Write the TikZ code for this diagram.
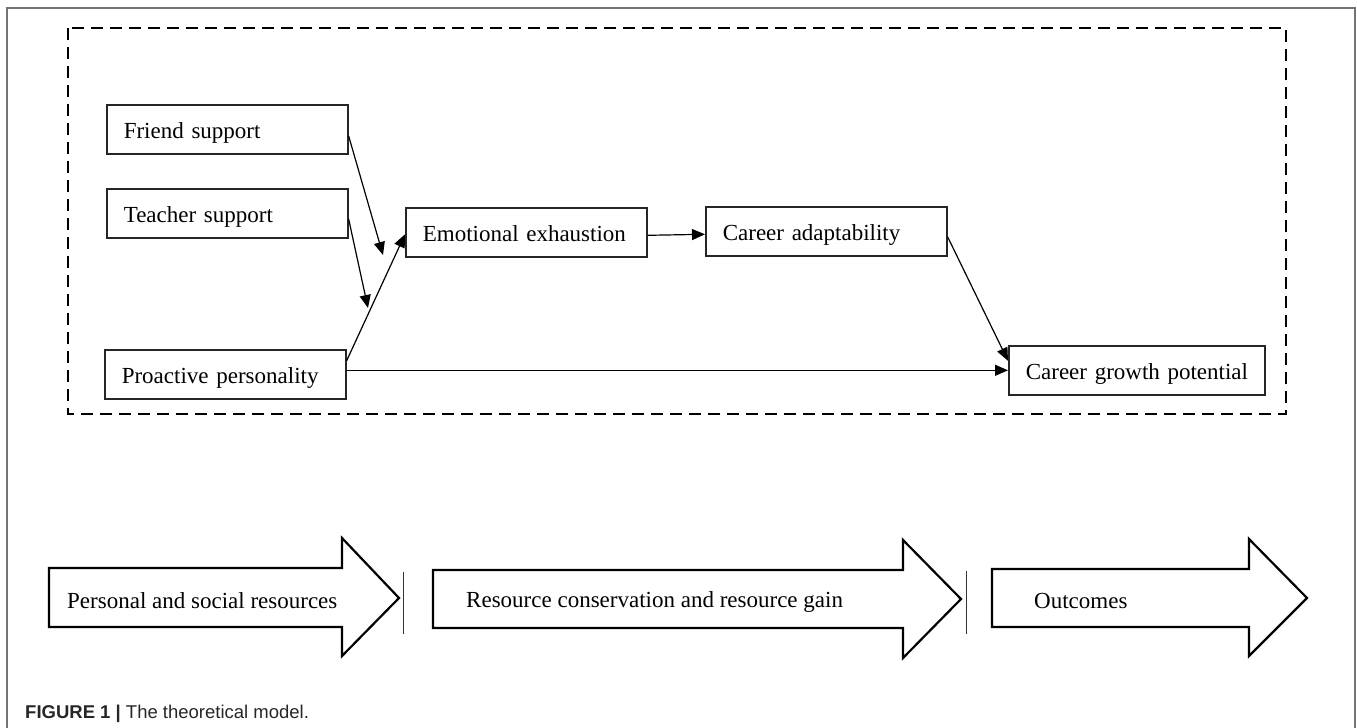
\documentclass[tikz,border=0pt]{standalone}
\usepackage{fontspec}
\setmainfont{Liberation Serif}
\newfontfamily\capfont{Liberation Sans}
\usetikzlibrary{arrows.meta}
\begin{document}
\begin{tikzpicture}[x=1pt,y=-1pt,
  box/.style={draw=black!85, line width=1.6pt, anchor=north west, inner xsep=17pt, inner ysep=0pt,
    text width=207pt, minimum height=49pt, align=left, text height=18pt, text depth=0pt,
    font=\fontsize{23}{27}\selectfont},
  conn/.style={line width=1.2pt, -{Triangle[length=13pt,width=11pt]}},
  barrow/.style={draw=black, line width=2.2pt, line join=miter},
  btext/.style={anchor=base west, inner sep=0pt, font=\fontsize{23}{27}\selectfont},
  sep/.style={line width=1pt, draw=black!80}
]
\useasboundingbox (0,0) rectangle (1357,728);
% outer frame
\draw[black!55, line width=1.3pt] (7,728) -- (7,8) -- (1355,8) -- (1355,728);
% dashed frame
\draw[line width=1.5pt, dash pattern=on 12pt off 7pt] (68,28) rectangle (1286,414);

% boxes
\node[box] (fs) at (106,104) {Friend support};
\node[box] (ts) at (106,188) {Teacher support};
\node[box] (pp) at (104,349) {Proactive personality};
\node[box] (ee) at (405,207) {Emotional exhaustion};
\node[box] (ca) at (705,206) {Career adaptability};
\node[box, text width=222pt] (cg) at (1008,345) {\mbox{Career growth potential}};

\coordinate (m1) at (383,255);
\coordinate (m2) at (368,308);

\draw[conn] ([yshift=-6.5pt]fs.east) -- (m1);
\draw[conn] ([yshift=-5.5pt]ts.east) -- (m2);
\draw[conn] ([yshift=13.5pt]pp.east) -- ([yshift=-2pt]ee.west);
\draw[conn] ([yshift=-3pt]ee.east) -- ([yshift=-3pt]ca.west);
\draw[conn] ([yshift=-5.5pt]ca.east) -- ([yshift=9.5pt]cg.west);
\draw[conn] (pp.east |- cg.west) -- (cg.west);

% bottom block arrows
\draw[barrow] (49,568) -- (342,568) -- (342,538) -- (399,598) -- (342,656) -- (342,627) -- (49,627) -- cycle;
\draw[barrow] (433,570) -- (903,570) -- (903,540) -- (961,599) -- (903,658) -- (903,628) -- (433,628) -- cycle;
\draw[barrow] (992,569) -- (1249,569) -- (1249,539) -- (1307,598) -- (1249,656) -- (1249,627) -- (992,627) -- cycle;
\draw[sep] (403,572) -- (403,634);
\draw[sep] (966,571) -- (966,634);

\node[btext] (t1) at (67,608) {Personal and social resources};
\node[btext] (t2) at (466,607) {Resource conservation and resource gain};
\node[btext] (t3) at (1034,608) {Outcomes};

\node[anchor=base west, inner sep=0pt, font=\capfont\fontsize{18.5}{21}\selectfont, text=black!85] (cap) at (25,718) {\textbf{FIGURE 1 |} The theoretical model.};
\end{tikzpicture}
\end{document}
